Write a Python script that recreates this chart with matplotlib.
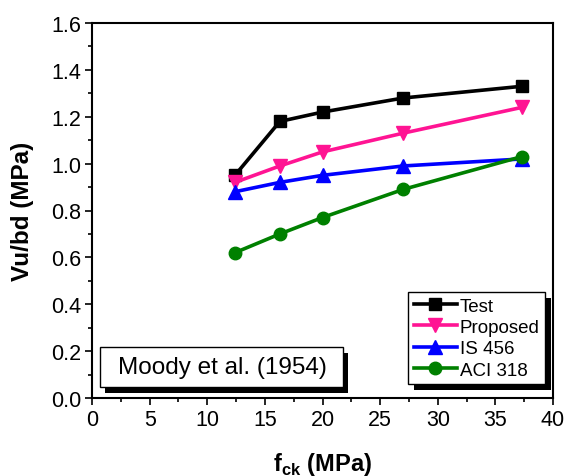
import matplotlib.pyplot as plt
from matplotlib.patches import Rectangle
from matplotlib.ticker import MultipleLocator

plt.rcParams['font.family'] = ['Liberation Sans', 'DejaVu Sans']
plt.rcParams['mathtext.fontset'] = 'custom'
plt.rcParams['mathtext.rm'] = 'Liberation Sans'
plt.rcParams['mathtext.bf'] = 'Liberation Sans:bold'

# concrete strength (MPa)
fck = [12.4, 16.3, 20.0, 27.0, 37.3]

# shear strength Vu/bd (MPa)
test = [0.95, 1.18, 1.22, 1.28, 1.33]
proposed = [0.92, 0.99, 1.05, 1.13, 1.24]
is456 = [0.88, 0.92, 0.95, 0.99, 1.02]
aci318 = [0.62, 0.70, 0.77, 0.89, 1.03]

W, H = 569, 477
fig = plt.figure(figsize=(W/100, H/100), dpi=100)
ax = fig.add_axes([92/W, 1-399/H, 461/W, 375/H])

lw = 2.6
ax.plot(fck, test, '-s', color='black', lw=lw, ms=9, label='Test')
ax.plot(fck, proposed, '-v', color='#ff1493', lw=lw, ms=10, label='Proposed')
ax.plot(fck, is456, '-^', color='blue', lw=lw, ms=10, label='IS 456')
ax.plot(fck, aci318, '-o', color='green', lw=lw, ms=9, label='ACI 318')

ax.set_xlim(0, 40)
ax.set_ylim(0, 1.6)
ax.xaxis.set_major_locator(MultipleLocator(5))
ax.xaxis.set_minor_locator(MultipleLocator(2.5))
ax.yaxis.set_major_locator(MultipleLocator(0.2))
ax.yaxis.set_minor_locator(MultipleLocator(0.1))
ax.yaxis.set_major_formatter(plt.FormatStrFormatter('%.1f'))
ax.tick_params(which='both', direction='out', top=False, right=False)
ax.tick_params(which='major', length=5, width=1.2, labelsize=15.5, pad=3)
ax.tick_params(which='minor', length=3, width=1.2)
for s in ax.spines.values():
    s.set_linewidth(1.5)

ax.set_xlabel(r'f$_{\mathbf{ck}}$ (MPa)', fontsize=17, fontweight='bold', labelpad=14)
ax.set_ylabel('Vu/bd (MPa)', fontsize=17.5, fontweight='bold', labelpad=12)

# legend with drop shadow
leg = ax.legend(loc='upper left', bbox_to_anchor=(408/W, 1-293/H),
                bbox_transform=fig.transFigure, fontsize=13.5,
                frameon=True, fancybox=False, framealpha=1, handlelength=2.3,
                handletextpad=0.15, borderpad=0.3, labelspacing=0.22,
                borderaxespad=0)
leg.get_frame().set_edgecolor('black')
leg.get_frame().set_linewidth(1)
fig.canvas.draw()
bb = leg.get_window_extent().transformed(fig.transFigure.inverted())
fig.patches.append(Rectangle((bb.x0 + 6/W, bb.y0 - 6/H), bb.width, bb.height,
                             transform=fig.transFigure, facecolor='black',
                             edgecolor='none', zorder=0.5))
leg.set_zorder(5)

# label box with drop shadow
fig.patches.append(Rectangle((105/W, 1-394/H), 243/W, 40/H,
                             transform=fig.transFigure, facecolor='black',
                             edgecolor='none', zorder=0.5))
fig.patches.append(Rectangle((100/W, 1-388/H), 243/W, 40/H,
                             transform=fig.transFigure, facecolor='white',
                             edgecolor='black', lw=1, zorder=0.6))
fig.text(222/W, 1-368/H, 'Moody et al. (1954)', fontsize=17.5,
         ha='center', va='center', zorder=1)
ax.set_zorder(1)
ax.patch.set_alpha(0)

fig.savefig('out.png', dpi=100)
